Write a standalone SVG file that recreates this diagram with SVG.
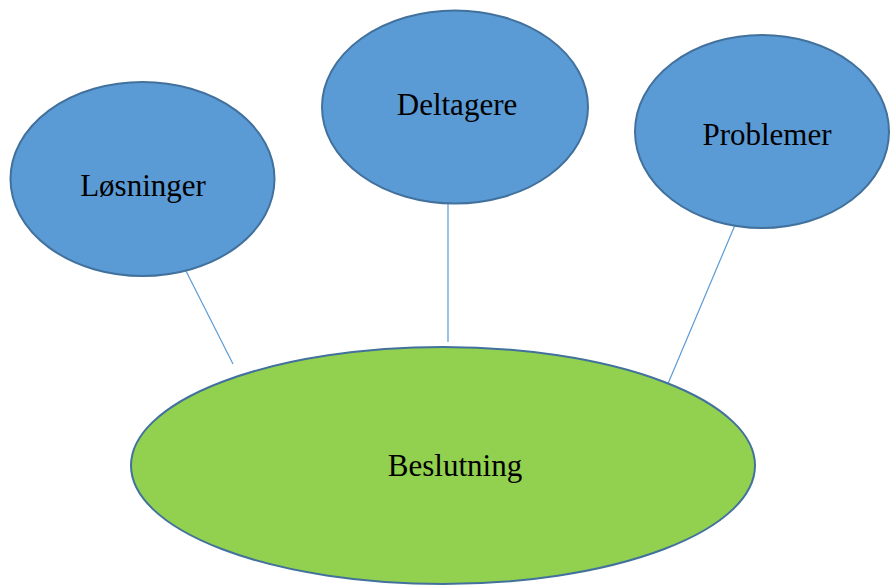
<svg xmlns="http://www.w3.org/2000/svg" width="890" height="585" viewBox="0 0 890 585">
<style>
.blue{fill:#5B9BD5;stroke:#41719C;stroke-width:2}
.green{fill:#92D050;stroke:#41719C;stroke-width:2}
.lbl{font-family:"Liberation Serif","Times New Roman",serif;font-size:31px;fill:#000;text-anchor:middle}
.conn{stroke:#5B9BD5;stroke-width:1.2;fill:none}
</style>
<rect width="890" height="585" fill="#fff"/>
<g id="connectors">
<line class="conn" x1="186" y1="271" x2="233" y2="364"/>
<line class="conn" x1="448" y1="203" x2="448" y2="342"/>
<line class="conn" x1="735" y1="225" x2="667" y2="386"/>
</g>
<g id="beslutning">
<ellipse class="green" cx="443" cy="465.5" rx="312" ry="118.5"/>
<text class="lbl" x="455" y="476">Beslutning</text>
</g>
<g id="losninger">
<ellipse class="blue" cx="142.5" cy="179" rx="132" ry="97"/>
<text class="lbl" x="143" y="196">Løsninger</text>
</g>
<g id="deltagere">
<ellipse class="blue" cx="455" cy="107" rx="133" ry="96.5"/>
<text class="lbl" x="457" y="115">Deltagere</text>
</g>
<g id="problemer">
<ellipse class="blue" cx="762" cy="131.5" rx="127" ry="96.5"/>
<text class="lbl" x="767" y="145">Problemer</text>
</g>
</svg>
